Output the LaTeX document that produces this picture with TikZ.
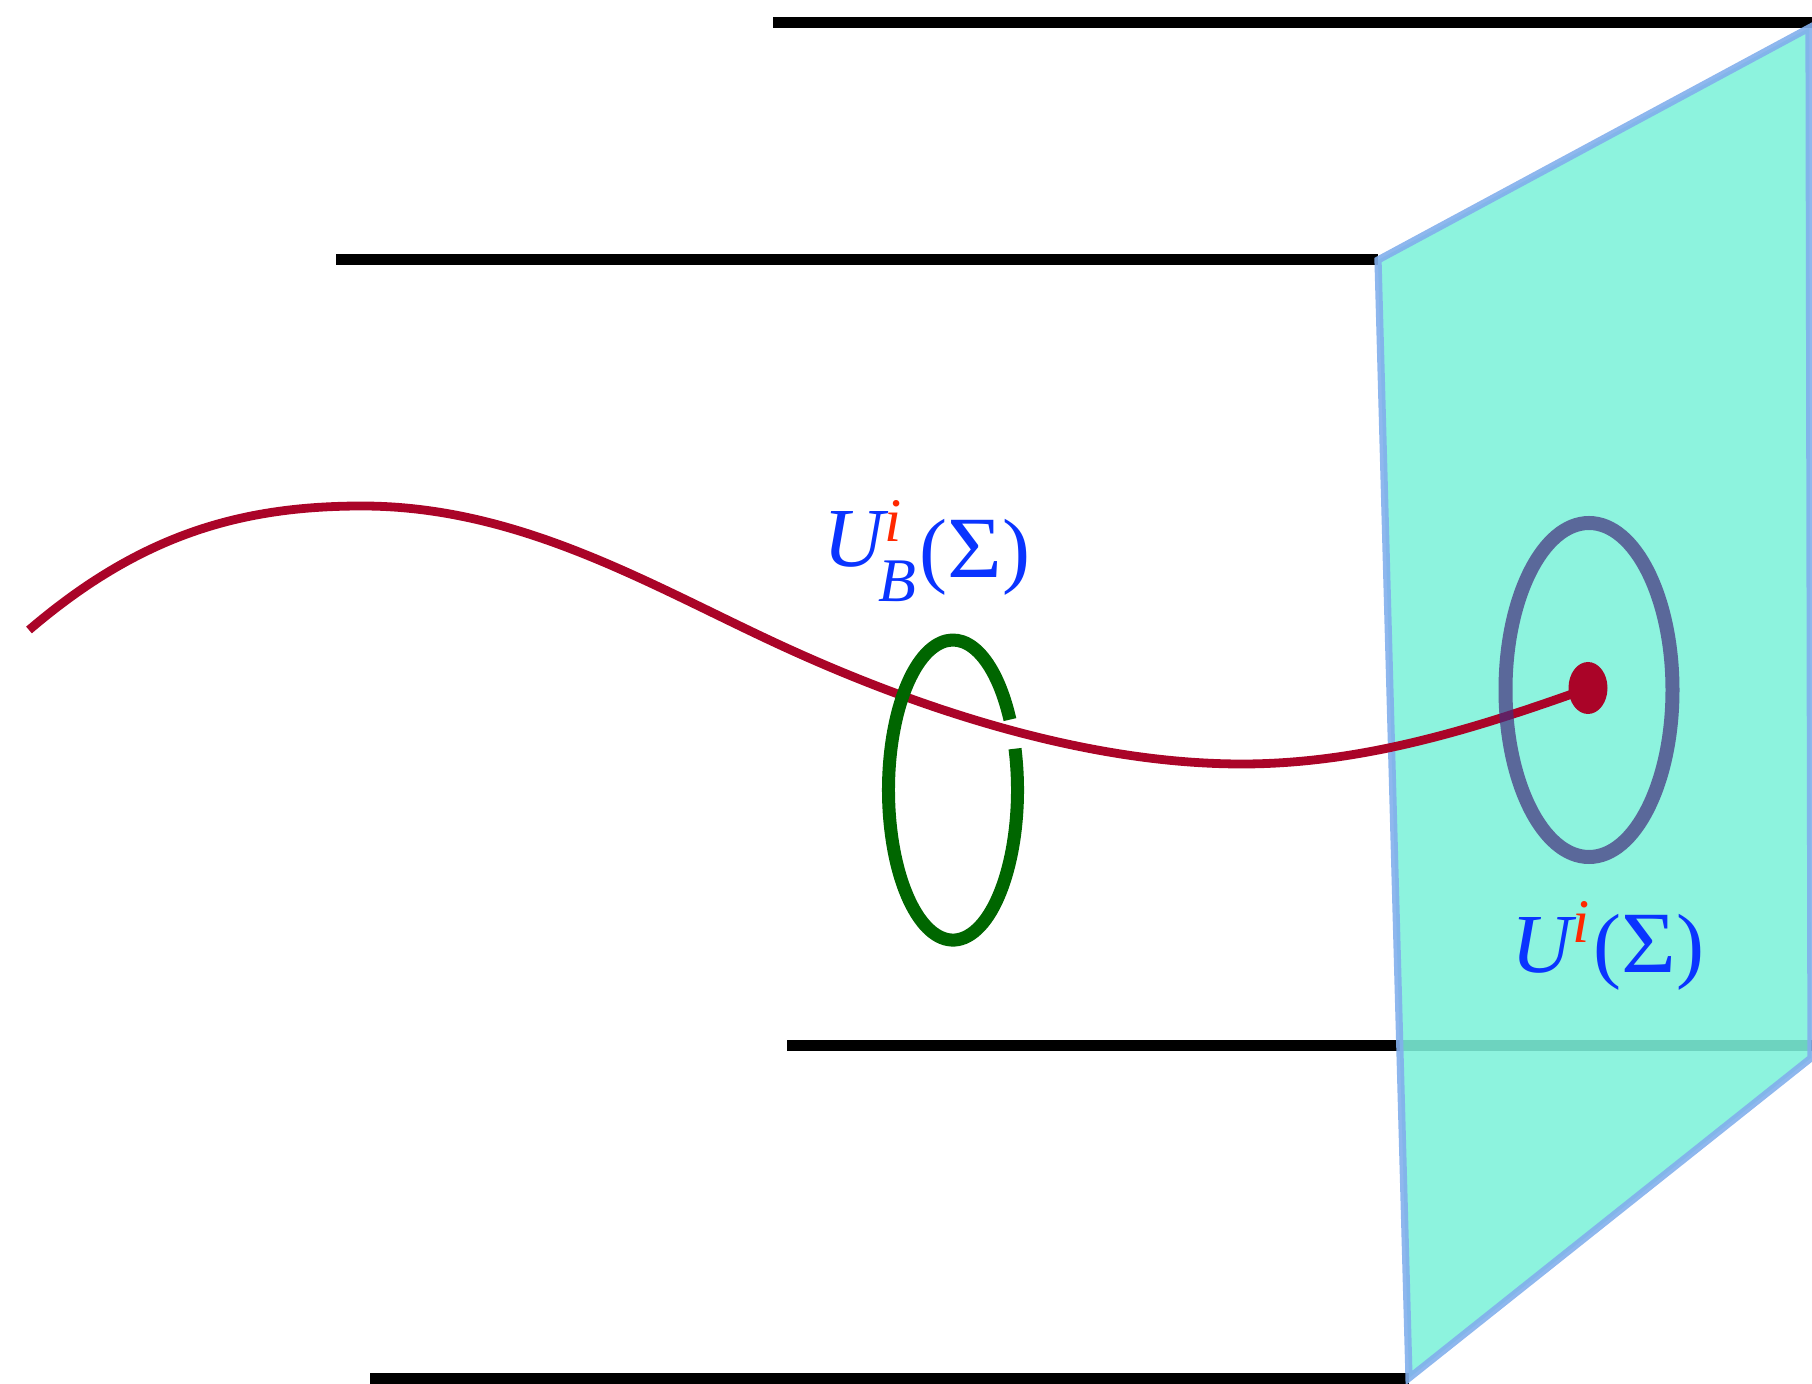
\documentclass[tikz,border=0pt]{standalone}
\usepackage{graphicx}
\usepackage{fontspec}
\setmainfont{Liberation Serif}
\definecolor{tealfill}{RGB}{125,241,218}
\definecolor{planeedge}{RGB}{130,175,236}
\definecolor{curvered}{RGB}{170,4,40}
\definecolor{loopgreen}{RGB}{0,102,0}
\definecolor{ringgray}{RGB}{70,45,125}
\definecolor{lblue}{RGB}{10,52,255}
\definecolor{lred}{RGB}{255,40,0}
\newcommand\scrsize{\fontsize{31}{32}\selectfont}
\newcommand\wideSigma{\scalebox{1.12}[1.04]{Σ}}
\begin{document}
\begin{tikzpicture}[x=0.5pt,y=-0.5pt,
  rail/.style={line width=5.5pt, draw=black},
  plane/.style={fill=tealfill, fill opacity=0.88, draw=planeedge, draw opacity=0.9, line width=3.6pt},
  redcurve/.style={draw=curvered, line width=4.4pt},
  loop/.style={draw=loopgreen, line width=6.5pt},
  ring/.style={draw=ringgray, draw opacity=0.7, line width=7pt},
  lbl/.style={font=\fontsize{42}{46}\selectfont, text=lblue, inner sep=0pt, anchor=base west}]
\useasboundingbox (0,0) rectangle (1812,1384);
% rails
\coordinate (r1a) at (773,23);   \coordinate (r1b) at (1812,23);
\coordinate (r2a) at (336,260);  \coordinate (r2b) at (1378,260);
\coordinate (r3a) at (787,1046); \coordinate (r3b) at (1812,1046);
\coordinate (r4a) at (370,1378); \coordinate (r4b) at (1409,1378);
\draw[rail] (r1a) -- (r1b);
\draw[rail] (r2a) -- (r2b);
\draw[rail] (r3a) -- (r3b);
\draw[rail] (r4a) -- (r4b);
% plane
\coordinate (p1) at (1378,260);
\coordinate (p2) at (1809,28);
\coordinate (p3) at (1811,1058);
\coordinate (p4) at (1409,1378);
\filldraw[plane] (p1) -- (p2) -- (p3) -- (p4) -- cycle;
% red curve
\coordinate (c0) at (29,630);
\coordinate (c1) at (362,506);
\coordinate (c2) at (780,645);
\coordinate (c3) at (1242,764);
\coordinate (c4) at (1572,694);
\draw[redcurve] (c0) .. controls (140,535) and (240,506) .. (c1)
  .. controls (520,506) and (650,585) .. (c2)
  .. controls (910,705) and (1080,764) .. (c3)
  .. controls (1360,764) and (1470,730) .. (c4);
\fill[curvered] (1588,688) ellipse [x radius=19.5, y radius=26];
% ring on the plane
\draw[ring] (1589,690) ellipse [x radius=83.5, y radius=167];
% green loop with gap
\draw[loop] (1015,748.7) arc[start angle=-16, end angle=332, x radius=64.5, y radius=150];
% labels
\node[lbl] (ubsigma) at (823,578) {\raisebox{5.5pt}{\itshape U}\makebox[0pt][l]{\raisebox{18pt}{\scrsize\color{lred}\itshape i}}\kern-3pt\raisebox{-12pt}{\scrsize\itshape B}\kern2pt(\wideSigma)};
\node[lbl] (usigma) at (1511,973) {{\itshape U}\raisebox{15pt}{\scrsize\color{lred}\itshape i}\kern2pt(\wideSigma)};
\end{tikzpicture}
\end{document}
